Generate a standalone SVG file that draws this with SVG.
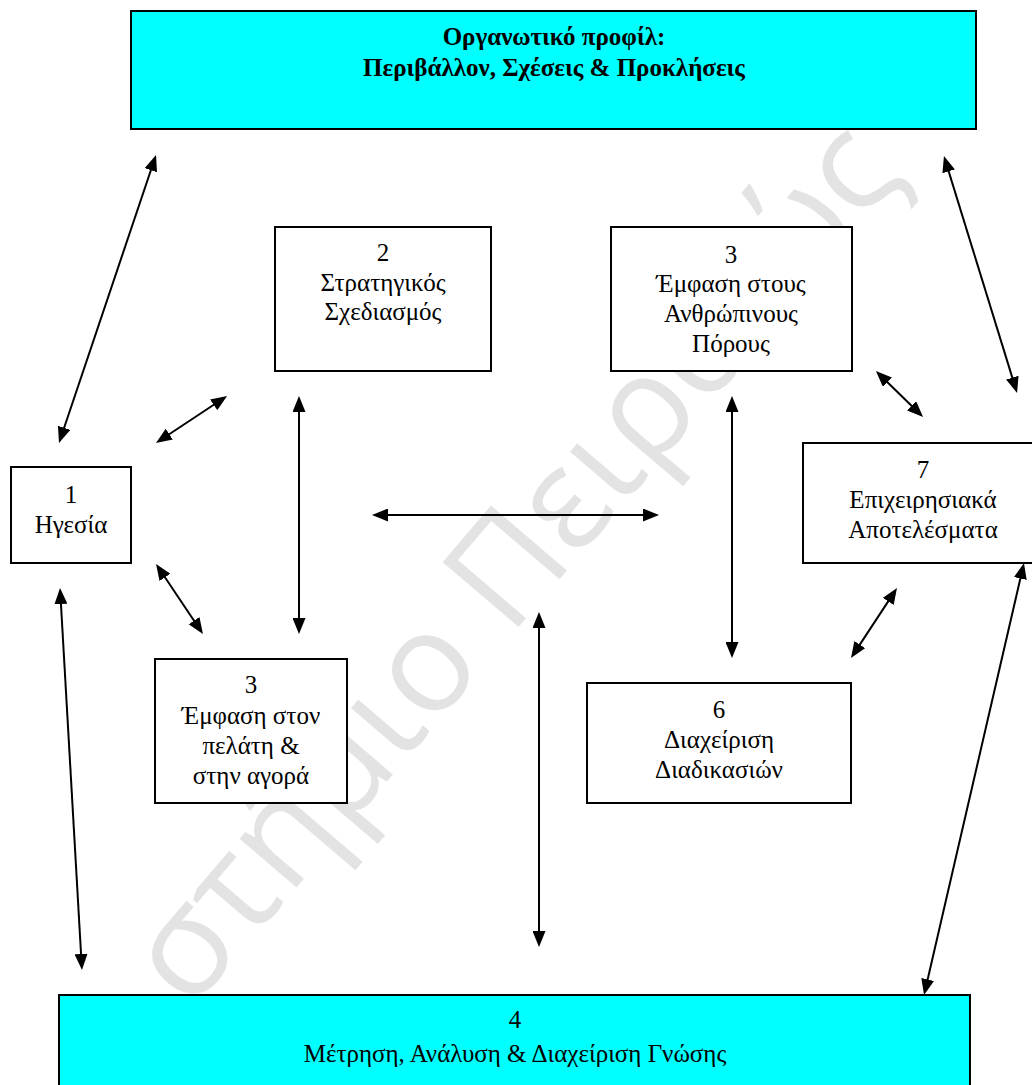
<svg xmlns="http://www.w3.org/2000/svg" width="1032" height="1085" viewBox="0 0 1032 1085">
  <style>
    .box { fill: #ffffff; stroke: #000000; stroke-width: 2; }
    .band { fill: #00ffff; stroke: #000000; stroke-width: 2; }
    .lbl { font-family: "Liberation Serif", "Times New Roman", serif; font-size: 25px; fill: #000000; text-anchor: middle; }
    .head { font-family: "Liberation Serif", "Times New Roman", serif; font-size: 25px; font-weight: bold; fill: #000000; text-anchor: middle; }
    .wm { font-family: "Open Sans", "DejaVu Sans", sans-serif; font-size: 140px; fill: #000000; fill-opacity: 0.11; }
    .link { fill: none; stroke: #000000; stroke-width: 2; marker-start: url(#tip); marker-end: url(#tip); }
  </style>
  <defs>
    <marker id="tip" viewBox="0 0 16 13" refX="6" refY="6.5" markerWidth="16" markerHeight="13" markerUnits="userSpaceOnUse" orient="auto-start-reverse">
      <path d="M0,0 L16,6.5 L0,13 z" fill="#000000"/>
    </marker>
  </defs>

  <rect width="1032" height="1085" fill="#ffffff"/>

  <!-- background watermark -->
  <text class="wm" transform="translate(190,1012) rotate(-49.5)" x="0" y="0">στήμιο Πειραιώς</text>

  <!-- connectors -->
  <g id="connectors">
    <path class="link" d="M152.8,164.5 L62.2,433.5"/>
    <path class="link" d="M218.7,401.5 L164.3,437.5"/>
    <path class="link" d="M299,406 L299,624"/>
    <path class="link" d="M382,515 L649,515"/>
    <path class="link" d="M732,406 L732,648"/>
    <path class="link" d="M539,622 L539,937"/>
    <path class="link" d="M161.6,572.3 L197.4,625.7"/>
    <path class="link" d="M883.1,378 L915.9,410"/>
    <path class="link" d="M946.9,165.6 L1014.1,383.4"/>
    <path class="link" d="M891.5,596.4 L856.5,649.6"/>
    <path class="link" d="M1021.7,572.7 L926.3,985.3"/>
    <path class="link" d="M60.6,598 L81.4,960"/>
  </g>

  <!-- organisational profile -->
  <g id="profile">
    <rect class="band" x="131" y="11" width="845" height="118"/>
    <text class="head" x="554" y="45">Οργανωτικό προφίλ:</text>
    <text class="head" x="554" y="76">Περιβάλλον, Σχέσεις &amp; Προκλήσεις</text>
  </g>

  <g id="n1">
    <rect class="box" x="11" y="467" width="120" height="96"/>
    <text class="lbl" x="71" y="503">1</text>
    <text class="lbl" x="71" y="533">Ηγεσία</text>
  </g>

  <g id="n2">
    <rect class="box" x="275" y="227" width="216" height="144"/>
    <text class="lbl" x="383" y="261">2</text>
    <text class="lbl" x="383" y="291">Στρατηγικός</text>
    <text class="lbl" x="383" y="320">Σχεδιασμός</text>
  </g>

  <g id="n3-people">
    <rect class="box" x="611" y="227" width="241" height="144"/>
    <text class="lbl" x="731" y="263">3</text>
    <text class="lbl" x="731" y="292">Έμφαση στους</text>
    <text class="lbl" x="731" y="322">Ανθρώπινους</text>
    <text class="lbl" x="731" y="352">Πόρους</text>
  </g>

  <g id="n3-customer">
    <rect class="box" x="155" y="659" width="192" height="144"/>
    <text class="lbl" x="251" y="693">3</text>
    <text class="lbl" x="251" y="724">Έμφαση στον</text>
    <text class="lbl" x="251" y="754">πελάτη &amp;</text>
    <text class="lbl" x="251" y="784">στην αγορά</text>
  </g>

  <g id="n6">
    <rect class="box" x="587" y="683" width="264" height="120"/>
    <text class="lbl" x="719" y="718">6</text>
    <text class="lbl" x="719" y="748">Διαχείριση</text>
    <text class="lbl" x="719" y="778">Διαδικασιών</text>
  </g>

  <g id="n7">
    <rect class="box" x="803" y="443" width="241" height="120"/>
    <text class="lbl" x="923" y="478">7</text>
    <text class="lbl" x="923" y="508">Επιχειρησιακά</text>
    <text class="lbl" x="923" y="538">Αποτελέσματα</text>
  </g>

  <g id="n4">
    <rect class="band" x="59" y="995" width="911" height="110"/>
    <text class="lbl" x="515" y="1028">4</text>
    <text class="lbl" x="515" y="1062">Μέτρηση, Ανάλυση &amp; Διαχείριση Γνώσης</text>
  </g>
</svg>
